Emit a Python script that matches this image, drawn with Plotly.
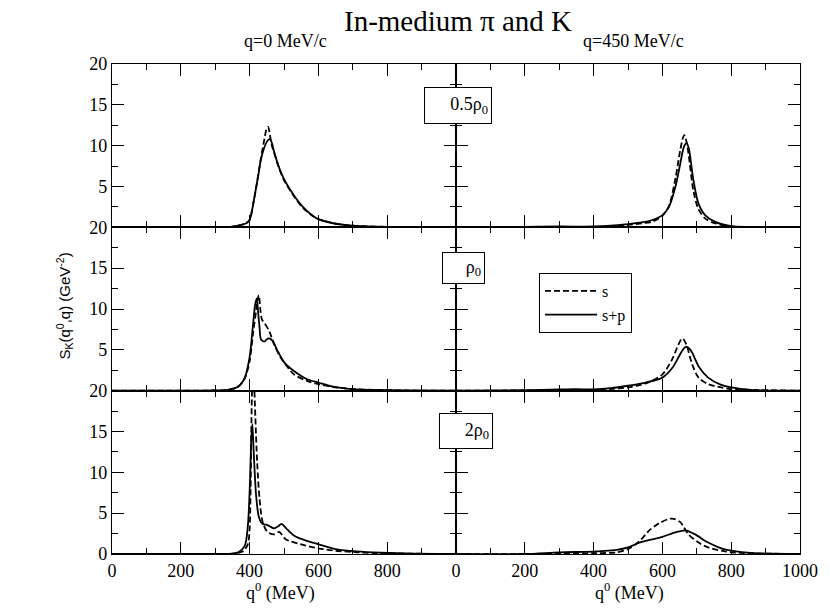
import plotly.graph_objects as go
from plotly.subplots import make_subplots

# kaon spectral functions (q0 in MeV, S in GeV^-2)
# 0.5 rho0, q = 0
q_a_sp = [0, 200, 300, 350, 376, 390, 400, 414, 424, 433, 443, 452, 459, 465, 471, 486, 500, 529, 557, 595, 643, 700, 800, 1000]
a_sp = [0, 0, 0.02, 0.1, 0.3, 0.5, 0.9, 3.7, 6.1, 8.3, 9.8, 10.6, 10.8, 10.3, 9.3, 7.3, 5.9, 3.9, 2.4, 1.1, 0.5, 0.2, 0.05, 0]
q_a_s = [0, 200, 300, 350, 376, 390, 400, 414, 424, 433, 443, 449, 454, 459, 465, 471, 486, 500, 529, 557, 595, 643, 700, 800, 1000]
a_s = [0, 0, 0.02, 0.1, 0.3, 0.5, 0.9, 3.7, 6.1, 8.5, 10.8, 12.0, 12.3, 11.3, 10.0, 9.2, 7.2, 5.8, 3.8, 2.3, 1.1, 0.5, 0.2, 0.05, 0]

# 0.5 rho0, q = 450
q_b_sp = [0, 200, 300, 400, 450, 500, 540, 571, 600, 619, 638, 652, 662, 670, 676, 681, 690, 705, 724, 752, 800, 850, 1000]
b_sp = [0, 0.05, 0.1, 0.1, 0.2, 0.4, 0.6, 0.9, 1.5, 2.5, 5.0, 7.8, 9.8, 10.3, 9.8, 8.6, 5.8, 2.9, 1.5, 0.7, 0.15, 0.05, 0]
q_b_s = [0, 200, 300, 400, 450, 500, 540, 571, 600, 619, 638, 652, 660, 664, 670, 676, 690, 705, 724, 752, 800, 1000]
b_s = [0, 0.03, 0.05, 0.05, 0.1, 0.3, 0.5, 0.7, 1.4, 2.6, 6.0, 9.5, 11.0, 11.3, 10.5, 9.0, 4.5, 2.2, 1.1, 0.5, 0.1, 0]

# rho0, q = 0
q_c_sp = [0, 250, 300, 338, 367, 386, 400, 410, 416, 421, 425, 429, 433, 443, 450, 457, 467, 481, 500, 529, 567, 600, 643, 700, 757, 850, 1000]
c_sp = [0, 0.01, 0.03, 0.1, 0.5, 1.6, 4.1, 8.1, 10.5, 11.3, 9.5, 7.7, 6.3, 6.0, 6.3, 6.4, 6.1, 4.9, 3.5, 2.4, 1.4, 1.0, 0.5, 0.2, 0.1, 0.03, 0]
q_c_s = [0, 250, 300, 338, 367, 386, 400, 410, 419, 424, 427, 431, 436, 443, 457, 471, 490, 529, 567, 600, 643, 700, 757, 850, 1000]
c_s = [0, 0.01, 0.03, 0.1, 0.5, 1.5, 3.6, 7.0, 9.8, 11.3, 11.7, 10.0, 8.7, 8.3, 7.3, 5.7, 4.1, 2.0, 1.2, 0.8, 0.45, 0.2, 0.1, 0.03, 0]

# rho0, q = 450
q_d_sp = [0, 200, 250, 300, 350, 400, 450, 500, 552, 600, 629, 652, 663, 670, 677, 686, 705, 733, 771, 800, 857, 1000]
d_sp = [0, 0.05, 0.1, 0.15, 0.18, 0.15, 0.3, 0.6, 1.0, 1.6, 2.8, 4.5, 5.2, 5.4, 5.2, 4.7, 3.0, 1.6, 0.7, 0.4, 0.1, 0]
q_d_s = [0, 200, 300, 400, 450, 500, 552, 600, 629, 643, 652, 657, 663, 671, 686, 705, 733, 771, 800, 1000]
d_s = [0, 0.03, 0.08, 0.08, 0.2, 0.4, 0.9, 2.0, 3.9, 5.3, 6.1, 6.4, 6.2, 5.5, 3.3, 1.6, 0.8, 0.4, 0.2, 0]

# 2 rho0, q = 0
q_e_sp = [0, 300, 350, 367, 386, 395, 400, 405, 408, 412, 419, 426, 433, 443, 448, 458, 471, 483, 493, 505, 531, 560, 592, 650, 700, 760, 850, 1000]
e_sp = [0, 0.01, 0.05, 0.2, 1.0, 3.5, 7.6, 14.1, 15.9, 12.4, 7.1, 4.7, 3.9, 3.6, 3.6, 3.4, 3.15, 3.4, 3.7, 3.2, 2.2, 1.7, 1.3, 0.6, 0.35, 0.2, 0.07, 0]
q_e_s = [0, 300, 350, 380, 395, 400, 403, 406, 410, 414, 417, 422, 429, 438, 452, 471, 486, 505, 548, 600, 650, 700, 760, 850, 1000]
e_s = [0, 0.01, 0.05, 0.3, 1.2, 3.0, 8.0, 18.0, 24.0, 20.0, 16.5, 11.2, 6.7, 3.9, 2.7, 2.4, 2.7, 1.8, 1.2, 0.7, 0.4, 0.25, 0.12, 0.05, 0]

# 2 rho0, q = 450
q_f_sp = [0, 200, 300, 400, 467, 500, 533, 571, 600, 638, 667, 695, 733, 771, 800, 867, 1000]
f_sp = [0, 0.0, 0.2, 0.3, 0.5, 0.8, 1.4, 1.8, 2.1, 2.65, 2.9, 2.4, 1.4, 0.7, 0.4, 0.1, 0]
q_f_s = [0, 200, 400, 467, 500, 533, 562, 590, 619, 633, 652, 676, 705, 733, 771, 800, 900, 1000]
f_s = [0, 0, 0.1, 0.2, 0.6, 1.55, 2.9, 3.75, 4.3, 4.3, 3.9, 2.4, 1.4, 0.8, 0.4, 0.2, 0.05, 0]

x_ticks = [0, 200, 400, 600, 800, 1000]
y_ticks = [0, 5, 10, 15, 20]

panels = [
    (1, 1, q_a_s, a_s, q_a_sp, a_sp),
    (1, 2, q_b_s, b_s, q_b_sp, b_sp),
    (2, 1, q_c_s, c_s, q_c_sp, c_sp),
    (2, 2, q_d_s, d_s, q_d_sp, d_sp),
    (3, 1, q_e_s, e_s, q_e_sp, e_sp),
    (3, 2, q_f_s, f_s, q_f_sp, f_sp),
]

SERIF = "Liberation Serif, Times New Roman, serif"

fig = make_subplots(rows=3, cols=2, horizontal_spacing=0, vertical_spacing=0)

for row, col, qs, s, qsp, sp in panels:
    first = (row == 2 and col == 2)
    fig.add_trace(go.Scatter(x=qs, y=s, mode='lines', name='s', showlegend=first,
                             line=dict(color='black', width=1.8, dash='6px,3px', shape='spline', smoothing=0.8)),
                  row=row, col=col)
    fig.add_trace(go.Scatter(x=qsp, y=sp, mode='lines', name='s+p', showlegend=first,
                             line=dict(color='black', width=1.8, shape='spline', smoothing=0.8)),
                  row=row, col=col)

fig.update_xaxes(range=[0, 1000], tickmode='array', tickvals=x_ticks, ticks='inside', ticklen=12,
                 tickwidth=1.2, tickcolor='black', showline=True, linecolor='black', linewidth=1.3,
                 mirror='ticks', showgrid=False, zeroline=False, showticklabels=False,
                 tickfont=dict(family=SERIF, size=18, color='black'),
                 minor=dict(tickmode='array', tickvals=[100, 300, 500, 700, 900], ticks='inside',
                            ticklen=6, tickcolor='black', showgrid=False))
fig.update_yaxes(range=[0, 20], tickmode='array', tickvals=y_ticks, ticks='inside', ticklen=12,
                 tickwidth=1.2, tickcolor='black', showline=True, linecolor='black', linewidth=1.3,
                 mirror='ticks', showgrid=False, zeroline=False, showticklabels=False,
                 tickfont=dict(family=SERIF, size=18, color='black'),
                 minor=dict(tickmode='array', tickvals=[2.5, 7.5, 12.5, 17.5], ticks='inside',
                            ticklen=6, tickcolor='black', showgrid=False))

# tick labels only on the outer axes
fig.update_xaxes(showticklabels=True, ticktext=['0', '200', '400', '600', '800', ''], row=3, col=1)
fig.update_xaxes(showticklabels=True, ticktext=['0', '200', '400', '600', '800', '1000'], row=3, col=2)
fig.update_yaxes(showticklabels=True, ticktext=['', '5', '10', '15', '20'], row=1, col=1)
fig.update_yaxes(showticklabels=True, ticktext=['', '5', '10', '15', '20'], row=2, col=1)
fig.update_yaxes(showticklabels=True, ticktext=['0', '5', '10', '15', '20'], row=3, col=1)


def px(x):
    return (x - 112) / 696


def py(y):
    return (554 - y) / 490


def note(x, y, text, size, family=SERIF, **kw):
    fig.add_annotation(x=px(x), y=py(y), xref='paper', yref='paper', text=text, showarrow=False,
                       xanchor='center', yanchor='middle',
                       font=dict(family=family, size=size, color='black'), **kw)


note(462, 21, 'In-medium π and K', 29)
note(288, 41, 'q=0 MeV/c', 18)
note(640, 41, 'q=450 MeV/c', 18)
note(282, 592, 'q<sup>0</sup> (MeV)', 18)
note(636, 592, 'q<sup>0</sup> (MeV)', 18)
note(63, 306, 'S<sub>K</sub>(q<sup>0</sup>,q) (GeV<sup>-2</sup>)', 15, family='Liberation Sans', textangle=-90)

# density labels in boxes across the divider
box = dict(bordercolor='black', borderwidth=1, bgcolor='white', align='right')
note(462, 105.5, '0.5ρ<sub>0</sub>', 18, width=60, height=29, borderpad=3, **box)
note(468, 268, 'ρ<sub>0</sub>', 18, width=35, height=24, borderpad=3, **box)
note(470, 431, '2ρ<sub>0</sub>', 18, width=46, height=28, borderpad=3, **box)

# the page body keeps an 8px margin at top/left, so the figure sits 8px in
fig.update_layout(
    width=822, height=601,
    margin=dict(l=104, r=22, t=56, b=55),
    paper_bgcolor='white', plot_bgcolor='white',
    legend=dict(x=px(544), y=py(273), xanchor='left', yanchor='top',
                bordercolor='black', borderwidth=1, bgcolor='white',
                font=dict(family=SERIF, size=16, color='black'),
                tracegroupgap=0, itemwidth=52),
)

fig.write_html("out.html")
